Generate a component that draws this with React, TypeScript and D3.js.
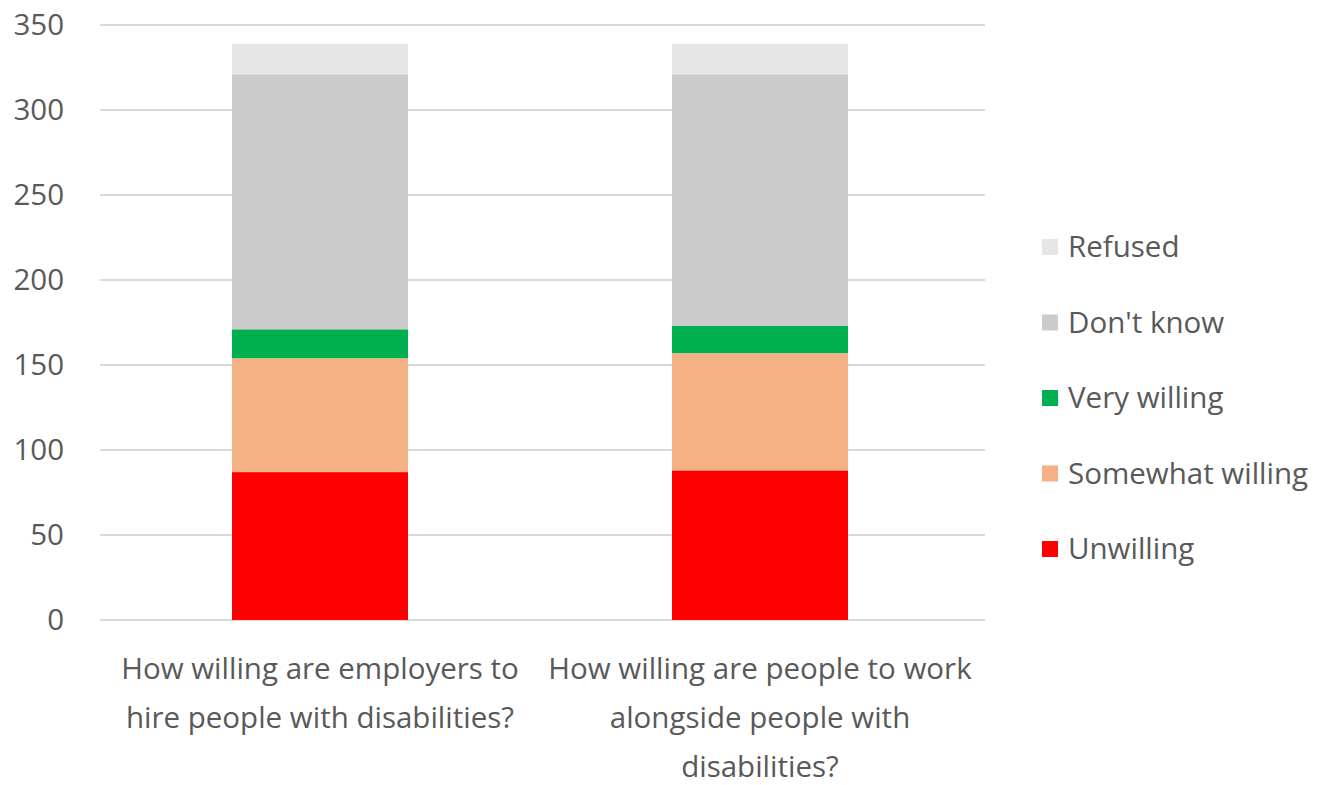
import React from "react";
import * as d3 from "d3";

const categories = [
  "How willing are employers to hire people with disabilities?",
  "How willing are people to work alongside people with disabilities?",
];
const categoryLines = [
  ["How willing are employers to", "hire people with disabilities?"],
  ["How willing are people to work", "alongside people with", "disabilities?"],
];
const seriesNames = ["Unwilling", "Somewhat willing", "Very willing", "Don't know", "Refused"];
const unwilling = [87, 88];
const somewhatWilling = [67, 69];
const veryWilling = [17, 16];
const dontKnow = [150, 148];
const refused = [18, 18];
const yTicks = [0, 50, 100, 150, 200, 250, 300, 350];
const colors = ["#ff0000", "#f4b183", "#00b050", "#cbcbcb", "#e7e6e6"];

const W = 1318;
const H = 785;
const FONT = "'Open Sans', 'Liberation Sans', sans-serif";
const TEXT = "#595959";

export default function App() {
  const seriesValues = [unwilling, somewhatWilling, veryWilling, dontKnow, refused];
  const rows = categories.map((c, i) => {
    const r: any = { cat: c };
    seriesNames.forEach((s, k) => (r[s] = seriesValues[k][i]));
    return r;
  });
  const stacked = d3.stack<any>().keys(seriesNames)(rows);

  const x = d3
    .scaleBand<string>()
    .domain(categories)
    .range([100, 980])
    .paddingInner(0.6)
    .paddingOuter(0.3);
  const y = d3.scaleLinear().domain([0, 350]).range([620, 25]);

  const legendOrder = [...seriesNames].reverse();

  return (
    <svg
      width={W}
      height={H}
      style={{ position: "absolute", left: 0, top: 0, background: "#fff" }}
      fontFamily={FONT}
    >
      <rect x={0} y={0} width={W} height={H} fill="#fff" />
      {yTicks.map((t) => (
        <g key={t}>
          <line x1={100} x2={985} y1={y(t)} y2={y(t)} stroke="#d9d9d9" strokeWidth={2} />
          <text
            x={64}
            y={y(t)}
            dy="0.35em"
            textAnchor="end"
            fontSize={29.5}
            fill={TEXT}
          >
            {t}
          </text>
        </g>
      ))}
      {stacked.map((s, k) => (
        <g key={s.key} fill={colors[k]}>
          {s.map((d, i) => (
            <rect
              key={i}
              x={x(categories[i])!}
              width={x.bandwidth()}
              y={y(d[1])}
              height={y(d[0]) - y(d[1])}
            />
          ))}
        </g>
      ))}
      {categories.map((c, i) => (
        <text
          key={c}
          x={x(c)! + x.bandwidth() / 2}
          y={679}
          textAnchor="middle"
          fontSize={29.5}
          fill={TEXT}
        >
          {categoryLines[i].map((l, j) => (
            <tspan key={j} x={x(c)! + x.bandwidth() / 2} y={679 + j * 49}>
              {l}
            </tspan>
          ))}
        </text>
      ))}
      {legendOrder.map((name, j) => {
        const k = seriesNames.indexOf(name);
        const cy = 247 + j * 75.5;
        return (
          <g key={name}>
            <rect x={1042} y={cy - 8} width={16} height={16} fill={colors[k]} />
            <text x={1068} y={cy} dy="0.35em" fontSize={29.5} fill={TEXT}>
              {name}
            </text>
          </g>
        );
      })}
    </svg>
  );
}
